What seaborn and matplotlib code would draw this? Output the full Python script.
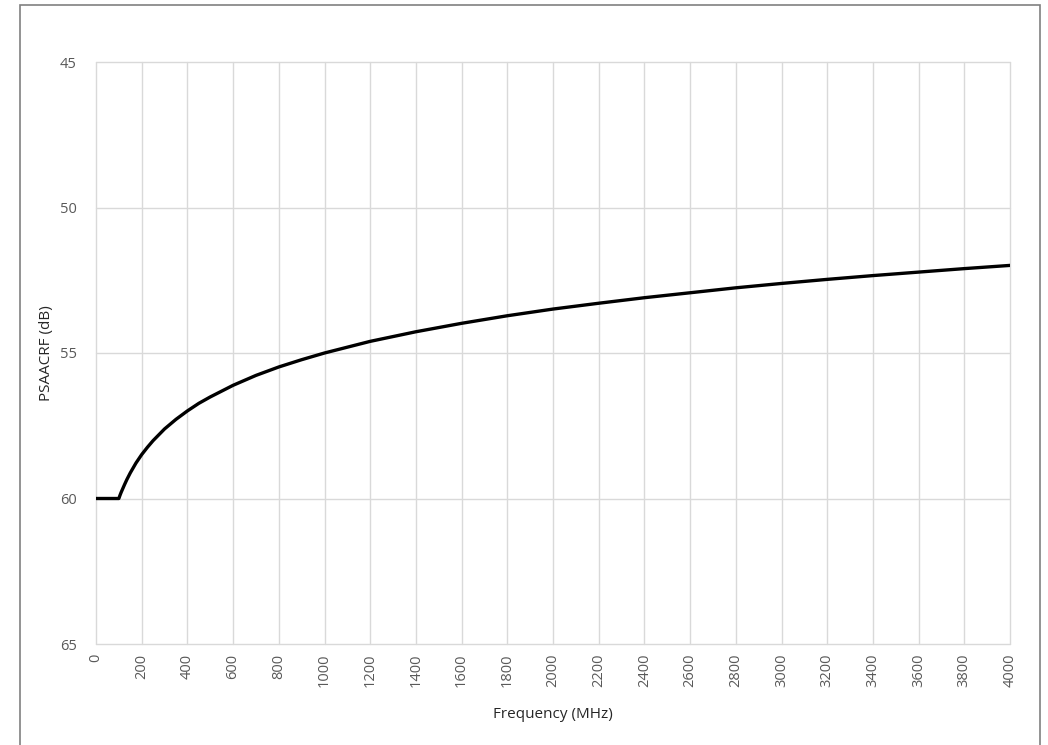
import numpy as np
import pandas as pd
import matplotlib
matplotlib.use("Agg")
import matplotlib.pyplot as plt
from matplotlib.patches import Rectangle
import seaborn as sns

# valeurs (MHz, dB)
freq_mhz = [0, 100, 105, 110, 115, 125, 135, 150, 175, 200, 225, 250, 300, 350, 400,
            450, 500, 600, 700, 800, 900, 1000, 1200, 1400, 1600, 1800, 2000,
            2200, 2400, 2600, 2800, 3000, 3200, 3400, 3600, 3800, 4000]
psaacrf_db = [60.0, 60.0, 59.89, 59.79, 59.70, 59.52, 59.35, 59.12, 58.78, 58.49,
              58.24, 58.01, 57.61, 57.28, 56.99, 56.73, 56.51, 56.11, 55.77, 55.48,
              55.23, 55.0, 54.60, 54.27, 53.98, 53.72, 53.49, 53.29, 53.10, 52.93,
              52.76, 52.61, 52.47, 52.34, 52.22, 52.10, 51.99]
x_ticks = list(range(0, 4001, 200))
y_ticks = [45, 50, 55, 60, 65]

df = pd.DataFrame({"freq": freq_mhz, "psaacrf": psaacrf_db})

sns.set_style("white")
plt.rcParams["font.family"] = ["Open Sans", "DejaVu Sans"]

fig = plt.figure(figsize=(10.48, 7.45), dpi=100)
ax = fig.add_axes([96 / 1048, 1 - 644 / 745, (1010 - 96) / 1048, (644 - 62) / 745])

sns.lineplot(data=df, x="freq", y="psaacrf", ax=ax, color="black", linewidth=2.4)

ax.set_xlim(0, 4000)
ax.set_ylim(65, 45)
ax.set_xticks(x_ticks)
ax.set_yticks(y_ticks)
ax.set_xticklabels([str(t) for t in x_ticks], rotation=90)
ax.tick_params(axis="both", length=0, labelsize=10.5, labelcolor="#595959")
ax.tick_params(axis="y", pad=14)
ax.tick_params(axis="x", pad=7)
ax.grid(True, color="#d9d9d9", linewidth=1)
ax.set_axisbelow(True)
for gl in ax.get_xgridlines() + ax.get_ygridlines():
    gl.set_clip_on(False)
for s in ax.spines.values():
    s.set_visible(False)

ax.set_xlabel("Frequency (MHz)", fontsize=11, color="#262626", labelpad=14)
ax.set_ylabel("PSAACRF (dB)", fontsize=11, color="#262626", labelpad=4)

# cadre gris autour du graphique
fig.patches.append(Rectangle((20 / 1048, -0.01), (1040 - 20) / 1048, 1 - 5 / 745 + 0.01,
                             transform=fig.transFigure, fill=False,
                             edgecolor="#808080", linewidth=1.2))

fig.savefig("out.png", dpi=100)
